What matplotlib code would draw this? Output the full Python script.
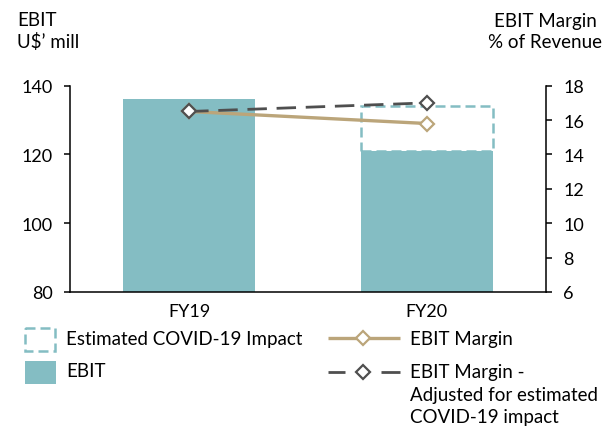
import matplotlib
matplotlib.use("Agg")
import matplotlib.pyplot as plt
from matplotlib.patches import Rectangle

# ---- data ----
years = ["FY19", "FY20"]
ebit = [136, 121]                 # U$' mill
covid_impact = [0, 13]            # U$' mill, estimated
ebit_margin = [16.5, 15.8]        # % of revenue
ebit_margin_adj = [16.5, 17.0]    # % of revenue, adjusted for COVID-19

left_ticks = [80, 100, 120, 140]
right_ticks = [6, 8, 10, 12, 14, 16, 18]

TEAL = "#84BDC3"
TAN = "#BBA57A"
GREY = "#4F4F4F"

plt.rcParams["font.family"] = ["Lato", "DejaVu Sans"]
FS_TICK = 13
FS_TEXT = 13.5

W, H = 611, 427
fig = plt.figure(figsize=(W / 100, H / 100), dpi=100)

ax = fig.add_axes([70.3 / W, 1 - 293 / H, (545.7 - 70.3) / W, (293 - 86.7) / H])
xpos = list(range(len(years)))
bar_w = 0.555

ax.bar(xpos, ebit, width=bar_w, color=TEAL, zorder=1)
for i, imp in enumerate(covid_impact):
    if imp > 0:
        ax.bar(i, imp, bottom=ebit[i], width=bar_w, fill=False,
               edgecolor=TEAL, linewidth=1.8, linestyle=(0, (4, 2)), zorder=2)

ax.set_xlim(-0.5, len(years) - 0.5)
ax.set_ylim(80, 140)
ax.set_yticks(left_ticks)
ax.set_xticks(xpos)
ax.set_xticklabels(years)
for s in ("top", "right"):
    ax.spines[s].set_visible(False)
for s in ("left", "bottom"):
    ax.spines[s].set_linewidth(1.1)
ax.tick_params(axis="y", length=4.5, width=1.1, pad=8, labelsize=FS_TICK)
ax.tick_params(axis="x", length=0, pad=8, labelsize=FS_TICK)

ax2 = ax.twinx()
ax2.set_ylim(6, 18)
ax2.set_yticks(right_ticks)
for s in ("top", "left", "bottom"):
    ax2.spines[s].set_visible(False)
ax2.spines["right"].set_linewidth(1.1)
ax2.tick_params(axis="y", length=4.5, width=1.1, pad=8, labelsize=FS_TICK)

ax2.plot(xpos, ebit_margin, color=TAN, lw=2.4, marker="D", ms=7.5,
         mfc="white", mec=TAN, mew=1.6, zorder=3)
ax2.plot(xpos, ebit_margin_adj, color=GREY, lw=2, dashes=(7, 3.5),
         marker="D", ms=7.5, mfc="white", mec=GREY, mew=1.6, zorder=4)

# ---- axis titles ----
fig.text(17 / W, 1 - 21 / H, "EBIT", ha="left", va="center", fontsize=FS_TEXT)
fig.text(17 / W, 1 - 42 / H, "U$\u2019 mill", ha="left", va="center", fontsize=FS_TEXT)
fig.text(545 / W, 1 - 21 / H, "EBIT Margin", ha="center", va="center", fontsize=FS_TEXT)
fig.text(545 / W, 1 - 42 / H, "% of Revenue", ha="center", va="center", fontsize=FS_TEXT)

# ---- legend ----
lax = fig.add_axes([0, 0, 1, 1], zorder=-1)
lax.set_xlim(0, W)
lax.set_ylim(H, 0)
lax.axis("off")

lax.add_patch(Rectangle((25, 329), 30, 23, fill=False, edgecolor=TEAL,
                        linewidth=1.8, linestyle=(0, (4, 2))))
lax.text(66.5, 340, "Estimated COVID-19 Impact", va="center", fontsize=FS_TEXT)

lax.add_patch(Rectangle((25, 362), 31, 23, facecolor=TEAL, edgecolor="none"))
lax.text(66.5, 372, "EBIT", va="center", fontsize=FS_TEXT)

lax.plot([328, 400], [339, 339], color=TAN, lw=2.4, solid_capstyle="butt")
lax.plot([363], [339], marker="D", ms=7.5, mfc="white", mec=TAN, mew=1.6)
lax.text(410.5, 340, "EBIT Margin", va="center", fontsize=FS_TEXT)

lax.plot([328, 345], [373, 373], color=GREY, lw=2, solid_capstyle="butt")
lax.plot([381, 400], [373, 373], color=GREY, lw=2, solid_capstyle="butt")
lax.plot([363], [373], marker="D", ms=7.5, mfc="white", mec=GREY, mew=1.6)
for y, line in zip([373, 396, 418],
                   ["EBIT Margin -", "Adjusted for estimated", "COVID-19 impact"]):
    lax.text(410.5, y, line, va="center", fontsize=FS_TEXT)

fig.savefig("out.png", dpi=100)
